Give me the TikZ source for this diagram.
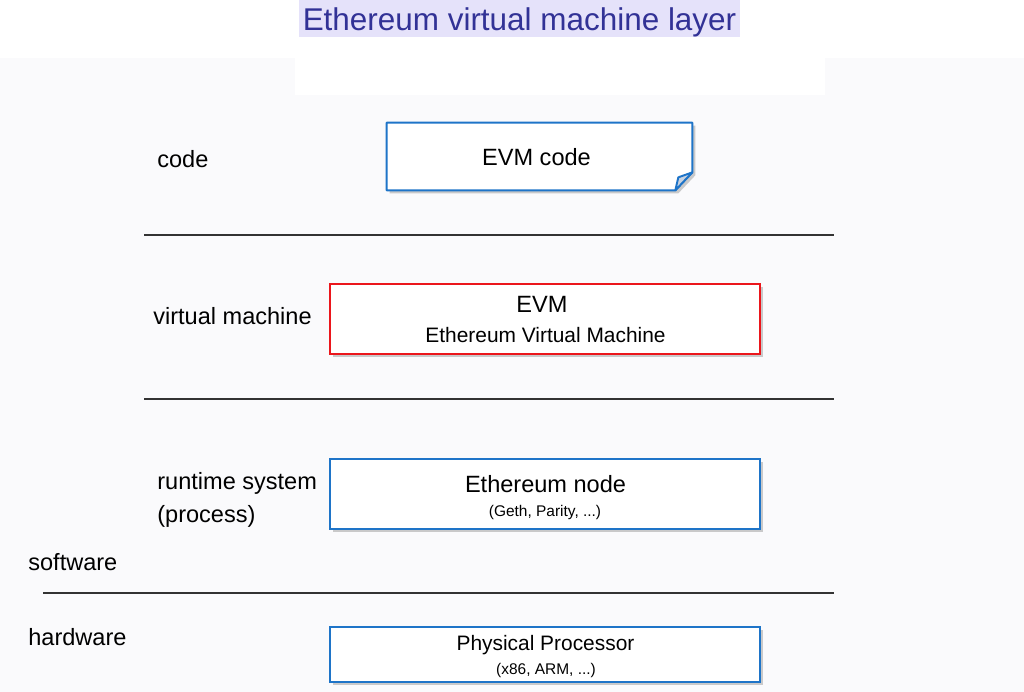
\documentclass[tikz,border=0pt]{standalone}
\usepackage{fontspec}
\setmainfont{Liberation Sans}
\usetikzlibrary{positioning}
\usetikzlibrary{shadows}
\definecolor{boxblue}{RGB}{30,116,200}
\definecolor{boxred}{RGB}{235,22,28}
\definecolor{titleblue}{RGB}{50,50,150}
\definecolor{titleback}{RGB}{229,226,250}
\definecolor{pageback}{RGB}{250,250,252}
\definecolor{foldgray}{RGB}{200,210,224}
\newcommand{\mainsize}{\fontsize{13.4}{16}\selectfont}
\newcommand{\smallsize}{\fontsize{8.8}{10}\selectfont}
\tikzset{boxshadow/.style = {drop shadow={shadow xshift=0.06cm, shadow yshift=-0.06cm, opacity=0.4}}}
\tikzset{layerbox/.style = {draw=boxblue, fill=white, line width=1.1pt, inner sep=0, boxshadow}}
\tikzset{boxtext/.style = {inner sep=0, font=\mainsize}}
\tikzset{layername/.style = {anchor=base west, inner sep=0, font=\mainsize}}
\tikzset{sepline/.style = {draw=black!80, line width=0.6pt}}

\begin{document}
\begin{tikzpicture}[x=0.02cm, y=-0.02cm]
      \useasboundingbox (0,0) rectangle (1024,692);
      \fill [pageback] (0,0) rectangle (1024,692);
      \fill [white] (0,0) rectangle (1024,58);
      \fill [white] (295,58) rectangle (825,95);

      \node [fill=titleback, text=titleblue, inner sep=0, minimum width=8.82cm, minimum height=0.74cm,
             text height=0.62cm, text depth=0.13cm,
             font=\fontsize{17.9}{20}\selectfont] (title) at (519.5,18.5) {Ethereum virtual machine layer};

      % layer names
      \node [layername] (code) at (157,168) {code};
      \node [layername] (vm) at (153,325) {virtual machine};
      \node [layername] (runtime) at (157,489) {runtime system};
      \node [layername] (process) at (157,522) {(process)};
      \node [layername] (software) at (28,570) {software};
      \node [layername] (hardware) at (28,645) {hardware};

      % separators
      \draw [sepline] (144,235) -- (834,235);
      \draw [sepline] (144,399) -- (834,399);
      \draw [sepline] (43,593) -- (834,593);

      % EVM code, folded corner
      \node [inner sep=0, minimum width=6.1cm, minimum height=1.34cm] (evmcode) at (539.5,156.5) {};
      \draw [draw=boxblue, fill=white, line width=1.1pt, line join=round, boxshadow]
            (evmcode.north west) -- (evmcode.north east) -- ([shift={(0,-18)}]evmcode.south east)
            -- ([shift={(-17,0)}]evmcode.south east) -- (evmcode.south west) -- cycle;
      \draw [draw=boxblue, fill=foldgray, line width=1.1pt, line join=round]
            ([shift={(0,-18)}]evmcode.south east) -- ([shift={(-14,-13)}]evmcode.south east)
            -- ([shift={(-17,0)}]evmcode.south east) -- cycle;
      \node [boxtext] (evmcodetext) at (536.5,157) {EVM code};

      % EVM
      \node [layerbox, draw=boxred, minimum width=8.6cm, minimum height=1.4cm] (evm) at (545,319) {};
      \node [boxtext] (evmname) at (542,304) {EVM};
      \node [boxtext, font=\fontsize{11.9}{14}\selectfont] (evmlong) at (545.5,335.5) {Ethereum Virtual Machine};

      % Ethereum node
      \node [layerbox, minimum width=8.6cm, minimum height=1.4cm] (node) at (545,494) {};
      \node [boxtext] (nodename) at (545.5,484) {Ethereum node};
      \node [boxtext, font=\smallsize] (nodeimpl) at (545,512.5) {(Geth, Parity, ...)};

      % hardware
      \node [layerbox, minimum width=8.6cm, minimum height=1.1cm] (cpu) at (545,654.5) {};
      \node [boxtext, font=\fontsize{11.9}{14}\selectfont] (cpuname) at (545.5,645) {Physical Processor};
      \node [boxtext, font=\smallsize] (cpuarch) at (546,670) {(x86, ARM, ...)};
    \end{tikzpicture}
\end{document}
